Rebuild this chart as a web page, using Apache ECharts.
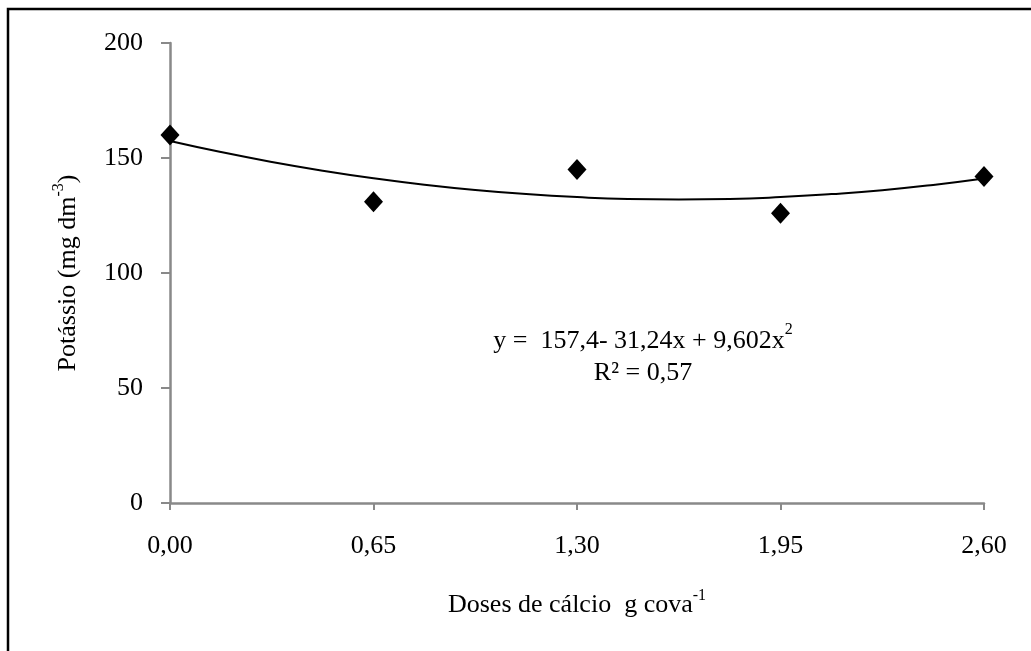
<!DOCTYPE html>
<html>
<head>
<meta charset="utf-8">
<script src="https://cdn.jsdelivr.net/npm/echarts@6/dist/echarts.min.js"></script>
<style>
  html, body { margin: 0; padding: 0; background: #fff; }
  #chart { width: 1031px; height: 651px; }
</style>
</head>
<body>
<div id="chart"></div>
<script>
  // pontos observados
  const doses = [0, 0.65, 1.30, 1.95, 2.60];
  const potassio = [160, 131, 145, 126, 142];
  // curva de tendência
  const curveX = [0, 0.1625, 0.325, 0.4875, 0.65, 0.8125, 0.975, 1.1375, 1.30, 1.4625, 1.625, 1.7875, 1.95, 2.1125, 2.275, 2.4375, 2.60];
  const curveY = [157.4, 152.6, 148.3, 144.5, 141.2, 138.4, 136.1, 134.3, 133.0, 132.2, 132.0, 132.2, 133.0, 134.3, 136.0, 138.3, 141.1];
  const yTicks = [0, 50, 100, 150, 200];

  const font = '"Liberation Serif", "Times New Roman", serif';
  const axisGray = '#898989';

  let myChart = echarts.init(document.getElementById('chart'));
  let option = {
    animation: false,
    grid: { left: 170, right: 47, top: 43, bottom: 148 },
    xAxis: {
      type: 'value',
      min: 0,
      max: 2.6,
      interval: 0.65,
      name: '{t|Doses de cálcio  g cova}{s|-1}',
      nameLocation: 'middle',
      nameGap: 85,
      nameTextStyle: {
        rich: {
          t: { fontFamily: font, fontSize: 26, color: '#000', lineHeight: 30, verticalAlign: 'bottom' },
          s: { fontFamily: font, fontSize: 16, color: '#000', lineHeight: 30, verticalAlign: 'top' }
        }
      },
      axisLine: { show: true, onZero: false, lineStyle: { color: axisGray, width: 2.5 } },
      axisTick: { show: true, length: 7, lineStyle: { color: axisGray, width: 2 } },
      splitLine: { show: false },
      axisLabel: {
        margin: 30,
        fontFamily: font,
        fontSize: 26,
        color: '#000',
        formatter: v => v.toFixed(2).replace('.', ',')
      }
    },
    yAxis: {
      type: 'value',
      min: yTicks[0],
      max: yTicks[yTicks.length - 1],
      interval: 50,
      name: '{t|Potássio (mg dm}{s|-3}{t|)}',
      nameLocation: 'middle',
      nameGap: 89,
      nameTextStyle: {
        rich: {
          t: { fontFamily: font, fontSize: 26, color: '#000', lineHeight: 30, verticalAlign: 'bottom' },
          s: { fontFamily: font, fontSize: 16, color: '#000', lineHeight: 30, verticalAlign: 'top' }
        }
      },
      axisLine: { show: true, lineStyle: { color: axisGray, width: 2.5 } },
      axisTick: { show: true, length: 9, lineStyle: { color: axisGray, width: 2 } },
      splitLine: { show: false },
      axisLabel: {
        margin: 27,
        fontFamily: font,
        fontSize: 26,
        color: '#000'
      }
    },
    graphic: [
      {
        type: 'rect',
        shape: { x: 8, y: 9, width: 1040, height: 660 },
        style: { fill: 'none', stroke: '#000', lineWidth: 2.5 },
        silent: true
      },
      {
        type: 'text',
        x: 643,
        y: 354,
        style: {
          text: '{m|y =  157,4- 31,24x + 9,602x}{s|2}\n{m|R² = 0,57}',
          align: 'center',
          verticalAlign: 'middle',
          rich: {
            m: { fontFamily: font, fontSize: 26, fill: '#000', lineHeight: 32, verticalAlign: 'bottom' },
            s: { fontFamily: font, fontSize: 16, fill: '#000', lineHeight: 32, verticalAlign: 'top' }
          }
        }
      }
    ],
    series: [
      {
        name: 'tendência',
        type: 'line',
        data: curveX.map((x, i) => [x, curveY[i]]),
        smooth: true,
        showSymbol: false,
        lineStyle: { color: '#000', width: 2 },
        z: 2
      },
      {
        name: 'Potássio',
        type: 'scatter',
        data: doses.map((x, i) => [x, potassio[i]]),
        symbol: 'diamond',
        symbolSize: [19, 21],
        itemStyle: { color: '#000', opacity: 1 },
        z: 3
      }
    ]
  };
  myChart.setOption(option);
</script>
</body>
</html>
